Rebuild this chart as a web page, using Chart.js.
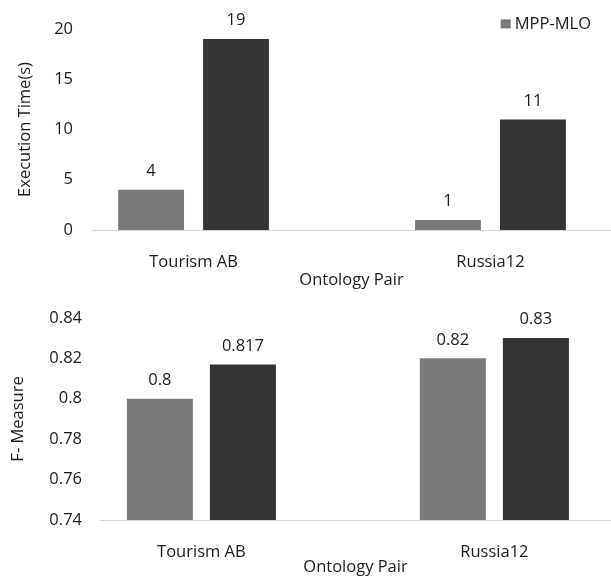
<!DOCTYPE html>
<html>
<head>
<meta charset="utf-8">
<script src="https://cdn.jsdelivr.net/npm/chart.js@4/dist/chart.umd.min.js"></script>
<style>
  html, body { margin: 0; padding: 0; background: #ffffff; }
  .box { position: relative; width: 611px; }
  #top { height: 290px; }
  #bot { height: 287px; }
</style>
</head>
<body>
<div class="box" id="top"><canvas id="c1"></canvas></div>
<div class="box" id="bot"><canvas id="c2"></canvas></div>
<script>
// ---- data ----
const categories = ['Tourism AB', 'Russia12'];
const seriesNames = ['MPP-MLO', ''];
const execMPP = [4, 1];
const execOther = [19, 11];
const fMPP = [0.8, 0.82];
const fOther = [0.817, 0.83];
const execTicks = [0, 5, 10, 15, 20];
const fTicks = [0.74, 0.76, 0.78, 0.8, 0.82, 0.84];
const execTickLabels = ['0', '5', '10', '15', '20'];
const fTickLabels = ['0.74', '0.76', '0.78', '0.8', '0.82', '0.84'];

// ---- styles ----
const FONT = "'Open Sans', 'Noto Sans', sans-serif";
const TEXT = '#1a1a1a';
const GRAY = '#7a7a7a';
const DARK = '#343434';
const FS = 16.5;

const valueLabels = {
  id: 'valueLabels',
  afterDatasetsDraw(chart) {
    const ctx = chart.ctx;
    ctx.save();
    ctx.font = FS + 'px ' + FONT;
    ctx.fillStyle = TEXT;
    ctx.textAlign = 'center';
    ctx.textBaseline = 'middle';
    chart.data.datasets.forEach((ds, di) => {
      const meta = chart.getDatasetMeta(di);
      meta.data.forEach((el, i) => {
        ctx.fillText(String(ds.data[i].y), el.x, el.y - 18.5);
      });
    });
    ctx.restore();
  }
};

const miniLegend = {
  id: 'miniLegend',
  afterDraw(chart, args, opts) {
    if (!opts.show) return;
    const ctx = chart.ctx;
    const ds = chart.data.datasets[0];
    ctx.save();
    ctx.font = FS + 'px ' + FONT;
    const w = ctx.measureText(ds.label).width;
    const right = chart.chartArea.right - 20;
    const cy = chart.chartArea.top - 5;
    ctx.fillStyle = ds.backgroundColor;
    ctx.fillRect(right - w - 14, cy - 4.5, 10, 9);
    ctx.fillStyle = TEXT;
    ctx.textAlign = 'left';
    ctx.textBaseline = 'middle';
    ctx.fillText(ds.label, right - w, cy);
    ctx.restore();
  }
};

function makeChart(canvasId, cfg) {
  const toPts = arr => arr.map((v, i) => ({ x: i, y: v }));
  return new Chart(document.getElementById(canvasId), {
    type: 'bar',
    data: {
      datasets: [
        { label: seriesNames[0], data: toPts(cfg.a), backgroundColor: GRAY, borderWidth: 0 },
        { label: seriesNames[1], data: toPts(cfg.b), backgroundColor: DARK, borderWidth: 0 }
      ]
    },
    options: {
      responsive: true,
      maintainAspectRatio: false,
      animation: false,
      categoryPercentage: cfg.catPct,
      barPercentage: cfg.barPct,
      layout: { padding: { top: cfg.padTop, left: 0, right: 0, bottom: 0 } },
      plugins: {
        legend: { display: false },
        tooltip: { enabled: false },
        miniLegend: { show: cfg.legend }
      },
      scales: {
        x: {
          type: 'linear',
          offset: false,
          min: cfg.xMin,
          max: cfg.xMax,
          grid: { display: false, drawTicks: false },
          border: { display: true, color: '#d6d6d6', width: 1 },
          afterBuildTicks: s => { s.ticks = categories.map((c, i) => ({ value: i })); },
          afterFit: s => { s.height = cfg.xHeight; },
          ticks: {
            autoSkip: false, maxRotation: 0, padding: 22,
            color: TEXT, font: { family: FONT, size: FS },
            callback: v => categories[v]
          },
          title: {
            display: true, text: 'Ontology Pair', color: TEXT,
            font: { family: FONT, size: FS }, padding: { top: 0, bottom: 0 }
          }
        },
        y: {
          min: cfg.yTicks[0],
          max: cfg.yTicks[cfg.yTicks.length - 1],
          grid: { display: false, drawTicks: false },
          border: { display: false },
          afterBuildTicks: s => { s.ticks = cfg.yTicks.map(v => ({ value: v })); },
          afterFit: s => { s.width = cfg.yWidth; },
          ticks: {
            padding: cfg.yPad, color: TEXT, font: { family: FONT, size: FS },
            callback: (v, i) => cfg.yLabels[i]
          },
          title: {
            display: true, text: cfg.yTitle, color: TEXT,
            font: { family: FONT, size: FS }, padding: { top: cfg.yTitlePad, bottom: 0 }
          }
        }
      }
    },
    plugins: [valueLabels, miniLegend]
  });
}

makeChart('c1', {
  a: execMPP, b: execOther, yTicks: execTicks, yLabels: execTickLabels,
  yTitle: 'Execution Time(s)', legend: true,
  xMin: -0.342, xMax: 1.406, catPct: 0.572, barPct: 0.776,
  padTop: 20, xHeight: 60, yWidth: 92, yPad: 19, yTitlePad: 15
});
makeChart('c2', {
  a: fMPP, b: fOther, yTicks: fTicks, yLabels: fTickLabels,
  yTitle: 'F- Measure', legend: false,
  xMin: -0.346, xMax: 1.398, catPct: 0.567, barPct: 0.795,
  padTop: 22, xHeight: 57, yWidth: 100, yPad: 18, yTitlePad: 8
});
</script>
</body>
</html>
